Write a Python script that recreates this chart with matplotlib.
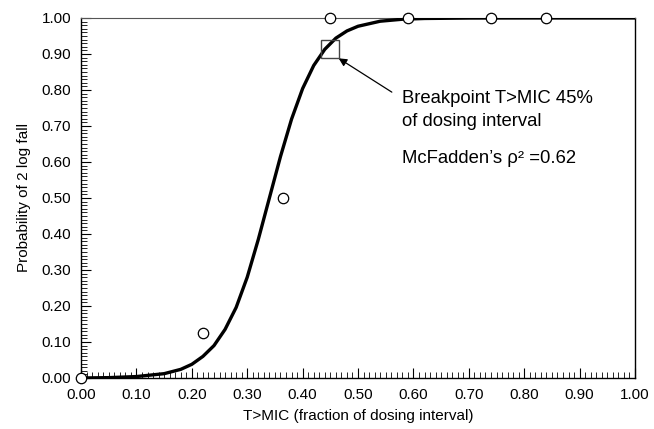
import matplotlib
matplotlib.use("Agg")
import matplotlib.pyplot as plt
from matplotlib.ticker import MultipleLocator, FormatStrFormatter

plt.rcParams['font.family'] = ['Liberation Sans', 'DejaVu Sans']

# observed data (open circles)
obs_x = [0.00, 0.22, 0.365, 0.45, 0.59, 0.74, 0.84]
obs_p = [0.00, 0.125, 0.50, 1.00, 1.00, 1.00, 1.00]

# fitted curve
fit_x = [0.00, 0.05, 0.10, 0.15, 0.18, 0.20, 0.22, 0.24, 0.26, 0.28, 0.30,
         0.32, 0.34, 0.36, 0.38, 0.40, 0.42, 0.44, 0.46, 0.48, 0.50, 0.54,
         0.58, 0.62, 0.70, 0.80, 0.90, 1.00]
fit_p = [0.000, 0.001, 0.004, 0.012, 0.024, 0.038, 0.060, 0.090, 0.135, 0.196, 0.280,
         0.385, 0.500, 0.615, 0.719, 0.804, 0.868, 0.913, 0.944, 0.964, 0.977, 0.991,
         0.9965, 0.9986, 0.9998, 1.000, 1.000, 1.000]

# breakpoint marker
bp_x = [0.45]
bp_p = [0.915]

fig = plt.figure(figsize=(6.54, 4.29), dpi=100)
ax = fig.add_axes([0.1239, 0.1189, 0.8471, 0.8392])

ax.plot(fit_x, fit_p, color='black', lw=2.4, zorder=3, solid_capstyle='round')
ax.plot(obs_x, obs_p, 'o', mfc='white', mec='black', mew=0.9, ms=7.5,
        clip_on=False, zorder=4, ls='none')
ax.plot(bp_x, bp_p, 's', mfc='none', mec='#444444', mew=1.0, ms=13,
        zorder=5, ls='none')

ax.annotate('', xy=(0.465, 0.888), xytext=(0.561, 0.794),
            arrowprops=dict(arrowstyle='-|>', color='black', lw=0.9,
                            mutation_scale=12, shrinkA=0, shrinkB=0))
ax.text(0.58, 0.744, 'Breakpoint T>MIC 45%\nof dosing interval', fontsize=13.3,
        va='center', ha='left', linespacing=1.45)
ax.text(0.58, 0.611, 'McFadden\u2019s \u03c1\u00b2 =0.62', fontsize=13.3,
        va='center', ha='left')

ax.set_xlim(0, 1)
ax.set_ylim(0, 1)
ax.xaxis.set_major_locator(MultipleLocator(0.1))
ax.xaxis.set_minor_locator(MultipleLocator(0.01))
ax.yaxis.set_major_locator(MultipleLocator(0.1))
ax.yaxis.set_minor_locator(MultipleLocator(0.01))
ax.xaxis.set_major_formatter(FormatStrFormatter('%.2f'))
ax.yaxis.set_major_formatter(FormatStrFormatter('%.2f'))
ax.tick_params(which='major', direction='in', length=7, width=0.8,
               labelsize=11, pad=7, top=False, right=False)
ax.tick_params(which='minor', direction='in', length=4, width=0.6,
               top=False, right=False)

ax.spines['top'].set_color('#555555')
ax.spines['top'].set_linewidth(0.8)
for s in ['left', 'bottom', 'right']:
    ax.spines[s].set_color('black')
    ax.spines[s].set_linewidth(1.0)

ax.set_xlabel('T>MIC (fraction of dosing interval)', fontsize=11, labelpad=5)
ax.set_ylabel('Probability of 2 log fall', fontsize=11, labelpad=8)

fig.savefig('out.png', dpi=100)
